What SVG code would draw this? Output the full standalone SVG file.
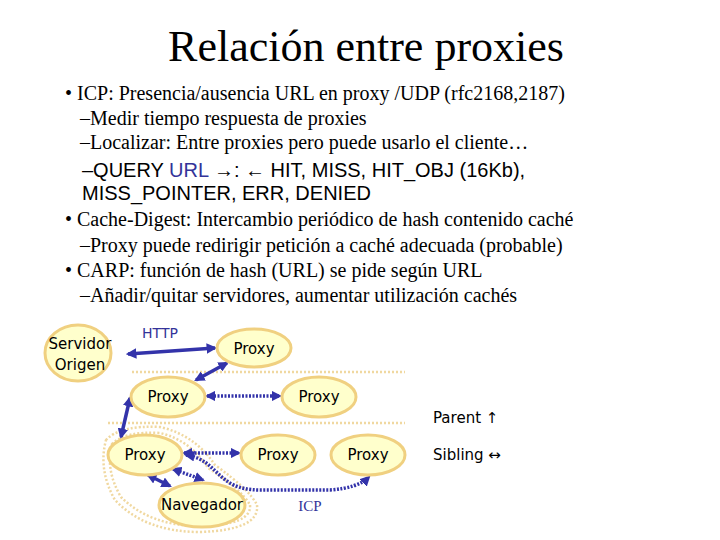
<svg xmlns="http://www.w3.org/2000/svg" width="720" height="540" viewBox="0 0 720 540">
<style>
.t{font-family:"Liberation Serif",serif;font-size:20px;fill:#000}
.a{font-family:"Liberation Sans",sans-serif;font-size:20px;fill:#000}
.n{font-family:"DejaVu Sans",sans-serif;font-size:15px;fill:#000;text-anchor:middle}
.e{fill:#ffffcc;stroke:#f0d080;stroke-width:3}
.s{stroke:#3333aa;stroke-width:3.5;fill:none;marker-start:url(#h);marker-end:url(#h)}
.d{stroke:#3333aa;stroke-width:3.5;fill:none;stroke-dasharray:2 1.5;marker-start:url(#h);marker-end:url(#h)}
.g{stroke:#f0d8a0;stroke-width:2.5;fill:none;stroke-dasharray:2 2}
</style>
<defs><marker id="h" viewBox="0 0 10 10" refX="8" refY="5" markerWidth="3" markerHeight="3" orient="auto-start-reverse"><path d="M0,0L10,5L0,10z" fill="#3333aa"/></marker></defs>
<rect width="720" height="540" fill="#fff"/>
<text x="366" y="61" text-anchor="middle" style="font-family:'Liberation Serif',serif;font-size:44px">Relación entre proxies</text>
<text class="t" x="65" y="100">• ICP: Presencia/ausencia URL en proxy /UDP (rfc2168,2187)</text>
<text class="t" x="80" y="125">–Medir tiempo respuesta de proxies</text>
<text class="t" x="80" y="149">–Localizar: Entre proxies pero puede usarlo el cliente…</text>
<text class="a" x="82" y="177">–QUERY <tspan fill="#333399">URL</tspan> →: ← HIT, MISS, HIT_OBJ (16Kb),</text>
<text class="a" x="82" y="200">MISS_POINTER, ERR, DENIED</text>
<text class="t" x="65" y="226">• Cache-Digest: Intercambio periódico de hash contenido caché</text>
<text class="t" x="80" y="252">–Proxy puede redirigir petición a caché adecuada (probable)</text>
<text class="t" x="65" y="277">• CARP: función de hash (URL) se pide según URL</text>
<text class="t" x="80" y="302">–Añadir/quitar servidores, aumentar utilización cachés</text>
<g id="guides">
<line class="g" x1="132" y1="372" x2="405" y2="372"/>
<line class="g" x1="108" y1="423" x2="405" y2="423"/>
<path class="g" d="M106,440 Q120,425 160,427 Q195,435 215,465 Q250,490 257,505 Q260,530 200,532 Q145,532 115,500 Q98,470 106,440Z"/>
<path class="g" d="M112,444 Q125,431 160,433 Q190,440 208,468 Q242,490 250,505 Q252,525 200,526 Q150,526 121,497 Q105,470 112,444Z"/>
</g>
<g id="connectors">
<line class="s" x1="128" y1="354" x2="215" y2="348"/>
<line class="s" x1="227" y1="363" x2="196" y2="380"/>
<line class="s" x1="130" y1="398" x2="121" y2="437"/>
<line class="d" x1="207" y1="396" x2="280" y2="396"/>
<line class="d" x1="184" y1="453" x2="239" y2="453"/>
<line class="s" x1="148" y1="475" x2="170" y2="486"/>
<line class="d" x1="173" y1="469" x2="203" y2="480"/>
<path class="d" d="M186,455 C220,460 215,490 260,490 L330,490 Q358,488 369,477"/>
</g>
<g id="servidor"><ellipse class="e" cx="78" cy="353" rx="33" ry="28"/><text class="n" x="80" y="349">Servidor</text><text class="n" x="80" y="370">Origen</text></g>
<g id="proxyTop"><ellipse class="e" cx="254" cy="348" rx="37" ry="19"/><text class="n" x="254" y="354">Proxy</text></g>
<g id="proxyML"><ellipse class="e" cx="168" cy="397" rx="37" ry="20"/><text class="n" x="168" y="402">Proxy</text></g>
<g id="proxyMR"><ellipse class="e" cx="319" cy="397" rx="37" ry="20"/><text class="n" x="319" y="402">Proxy</text></g>
<g id="proxyBL"><ellipse class="e" cx="145" cy="455" rx="37" ry="20"/><text class="n" x="145" y="460">Proxy</text></g>
<g id="proxyBM"><ellipse class="e" cx="278" cy="455" rx="37" ry="20"/><text class="n" x="278" y="460">Proxy</text></g>
<g id="proxyBR"><ellipse class="e" cx="368" cy="455" rx="37" ry="20"/><text class="n" x="368" y="460">Proxy</text></g>
<g id="navegador"><ellipse class="e" cx="202" cy="505" rx="43" ry="22"/><text class="n" x="202" y="510">Navegador</text></g>
<text x="160" y="338" text-anchor="middle" style="font-family:'DejaVu Sans',sans-serif;font-size:14px;fill:#333399">HTTP</text>
<text x="310" y="511" text-anchor="middle" style="font-family:'Liberation Serif',serif;font-size:15px;fill:#333399">ICP</text>
<text class="n" x="433" y="423" style="text-anchor:start">Parent ↑</text>
<text class="n" x="433" y="460" style="text-anchor:start">Sibling ↔</text>
</svg>
